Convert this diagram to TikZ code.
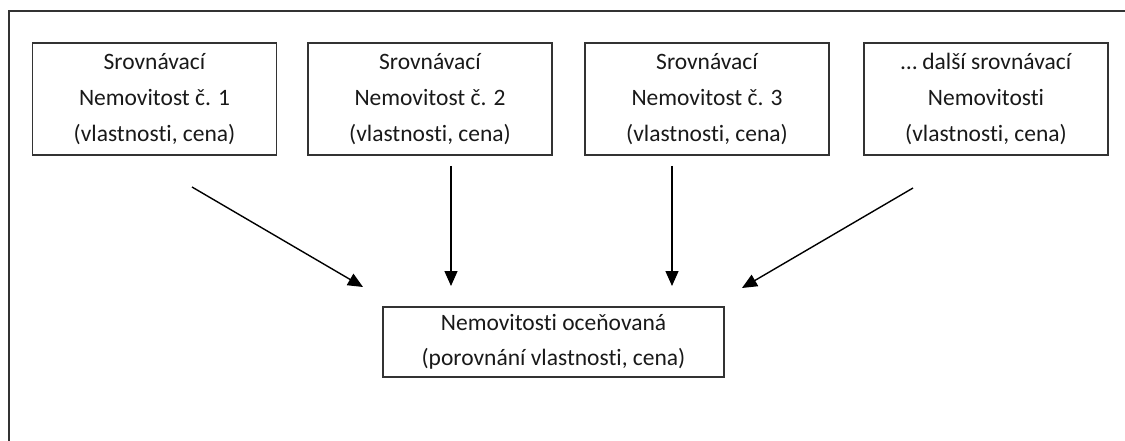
\documentclass[tikz,border=0pt]{standalone}
\usepackage{fontspec}
\setmainfont{Carlito}[RawFeature={-liga,-clig,-dlig}]
\usetikzlibrary{arrows.meta}
\tikzset{
  box/.style={draw=black!80, line width=1.4pt, minimum width=244pt, minimum height=112pt,
    inner sep=0pt, align=center, font=\fontsize{23.5pt}{36pt}\selectfont, text=black!90},
  bbox/.style={box, minimum width=341pt, minimum height=70pt, font=\fontsize{23.5pt}{35pt}\selectfont},
  arr/.style={line width=1.4pt, draw=black, -{Triangle[length=15pt,width=13pt]}},
  frame/.style={draw=black!80, line width=1.4pt}
}
\begin{document}
\begin{tikzpicture}[x=1pt,y=-1pt]
\useasboundingbox (0,0) rectangle (1125,441);
\coordinate (fa) at (9,441);
\coordinate (fb) at (9,11);
\coordinate (fc) at (1125,11);
\draw[frame] (fa) -- (fb) -- (fc);

\node[box] (b1) at (154.5,99) {Srovnávací\\Nemovitost č. 1\\(vlastnosti, cena)};
\node[box] (b2) at (430,99) {Srovnávací\\Nemovitost č. 2\\(vlastnosti, cena)};
\node[box] (b3) at (707,99) {Srovnávací\\Nemovitost č. 3\\(vlastnosti, cena)};
\node[box] (b4) at (986,99) {… další srovnávací\\Nemovitosti\\(vlastnosti, cena)};
\node[bbox] (m) at (553.5,342) {Nemovitosti oceňovaná\\(porovnání vlastnosti, cena)};

\coordinate (s1) at (192,187);
\coordinate (e1) at (363,287);
\coordinate (s2) at (451,166);
\coordinate (e2) at (451,286);
\coordinate (s3) at (672,166);
\coordinate (e3) at (672,286);
\coordinate (s4) at (913,188);
\coordinate (e4) at (742,288);

\draw[arr] (s1) -- (e1);
\draw[arr] (s2) -- (e2);
\draw[arr] (s3) -- (e3);
\draw[arr] (s4) -- (e4);
\end{tikzpicture}
\end{document}
